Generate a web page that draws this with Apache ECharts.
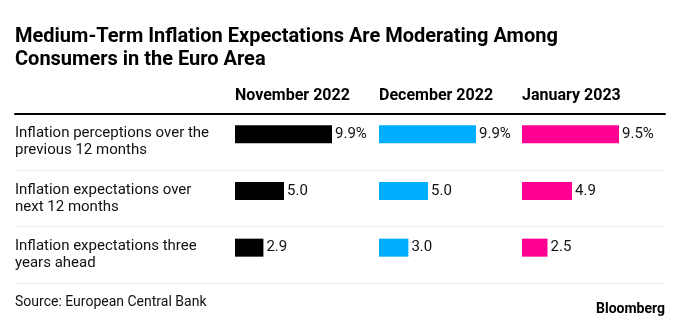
<!DOCTYPE html>
<html><head><meta charset="utf-8">
<script src="https://cdn.jsdelivr.net/npm/echarts@6/dist/echarts.min.js"></script>
<style>html,body{margin:0;padding:0;background:#fff}#c{width:680px;height:323px}</style>
</head><body><div id="c"></div>
<script>
const rowLabels = ['Inflation perceptions over the\nprevious 12 months', 'Inflation expectations over\nnext 12 months', 'Inflation expectations three\nyears ahead'];
const months = ['November 2022', 'December 2022', 'January 2023'];
const nov2022 = [9.9, 5.0, 2.9];
const dec2022 = [9.9, 5.0, 3.0];
const jan2023 = [9.5, 4.9, 2.5];
const seriesData = [nov2022, dec2022, jan2023];
const colors = ['#000000', '#00aeff', '#ff0090'];
const colLeft = [235, 379, 522];

const FONT = 'Roboto, Inter, sans-serif';
const chart = echarts.init(document.getElementById('c'), null, {renderer: 'canvas'});

const grids = [{left: 15, right: 15, top: 114, height: 169}];
const xAxes = [{gridIndex: 0, type: 'value', position: 'top', show: true,
  axisLine: {show: true, lineStyle: {color: '#000', width: 2}}, axisTick: {show: false},
  axisLabel: {show: false}, splitLine: {show: false}}];
const yAxes = [{gridIndex: 0, type: 'category', data: rowLabels, inverse: true,
  axisLine: {show: false}, axisTick: {show: false},
  axisLabel: {inside: true, margin: 0, align: 'left', color: '#111', fontFamily: FONT, fontSize: 15, lineHeight: 17},
  splitLine: {show: true, interval: 0, lineStyle: {color: '#ececec', width: 1}}}];
const series = [];
const titles = [];
seriesData.forEach((d, i) => {
  const gi = i + 1;
  grids.push({left: colLeft[i], width: 97, top: 106, height: 170});
  xAxes.push({gridIndex: gi, type: 'value', min: 0, max: Math.max(...d), show: false});
  yAxes.push({gridIndex: gi, type: 'category', data: rowLabels, inverse: true, show: false});
  series.push({type: 'bar', xAxisIndex: gi, yAxisIndex: gi, data: d, barWidth: 18,
    itemStyle: {color: colors[i]},
    label: {show: true, position: 'right', distance: 3, color: '#111', fontFamily: FONT, fontSize: 15,
      formatter: p => p.dataIndex === 0 ? p.value.toFixed(1) + '%' : p.value.toFixed(1)}});
  titles.push({text: months[i], left: colLeft[i], top: 88, padding: 0,
    textStyle: {fontFamily: FONT, fontSize: 16, fontWeight: 'bold', color: '#000'}});
});
titles.unshift({text: 'Medium-Term Inflation Expectations Are Moderating Among\nConsumers in the Euro Area', left: 15, top: 25, padding: 0,
  textStyle: {fontFamily: FONT, fontSize: 20, fontWeight: 'bold', color: '#000', lineHeight: 23}});
titles.push({text: 'Source: European Central Bank', left: 15, top: 295, padding: 0,
  textStyle: {fontFamily: FONT, fontSize: 14, fontWeight: 'normal', color: '#111'}});
titles.push({text: 'Bloomberg', right: 15, top: 302, padding: 0,
  textStyle: {fontFamily: FONT, fontSize: 14, fontWeight: 'bold', color: '#000'}});

chart.setOption({animation: false, title: titles, grid: grids, xAxis: xAxes, yAxis: yAxes, series: series});
</script></body></html>
